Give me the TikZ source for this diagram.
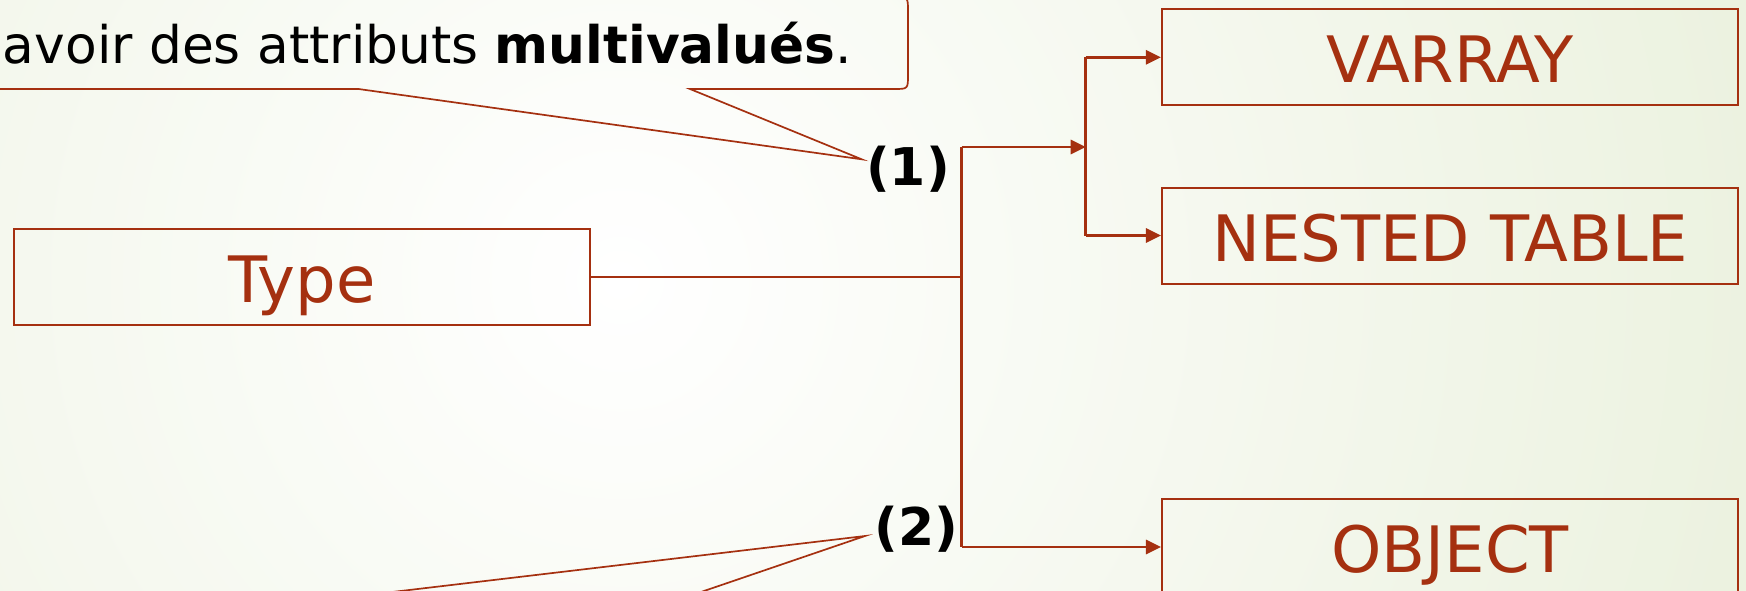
\documentclass[tikz,border=0pt]{standalone}
\usepackage{fontspec}
\setmainfont{DejaVu Sans}
\usetikzlibrary{arrows.meta}
\definecolor{rust}{HTML}{A53010}
\definecolor{bgg}{HTML}{DCE7C6}
\tikzset{
  box/.style={draw=rust, line width=2pt, minimum width=576.5pt, minimum height=96pt,
    inner sep=0pt, text=rust, font=\fontsize{64}{70}\selectfont,
    text height=51.4pt, text depth=0pt},
  conn/.style={draw=rust, line width=2.8pt},
  arr/.style={conn, -{Triangle[length=15pt,width=14pt]}},
  callout/.style={draw=rust, line width=1.7pt, line join=miter},
  num/.style={font=\fontsize{52}{56}\selectfont\bfseries, inner sep=0pt},
}
\begin{document}
\begin{tikzpicture}[x=1pt,y=-1pt]
\useasboundingbox (0,0) rectangle (1746,591);
\clip (0,0) rectangle (1746,591);
% background
\fill[bgg] (0,0) rectangle (1746,591);
\shade[inner color=white, outer color=bgg] (620,280) circle (2100pt);

% callout (top)
\coordinate (tip1) at (861.7,159.3);
\draw[callout] (-30,-3) -- (894,-3) .. controls (908,-3) .. (908,11) -- (908,75)
  .. controls (908,89) .. (894,89) -- (690,89) -- (tip1) -- (358.5,89) -- (-30,89);
\node[anchor=base east, inner sep=0pt, font=\fontsize{51.8}{60}\selectfont] (ctext)
  at (852,63.3) {avoir des attributs \textbf{multivalués}.};

% callout (bottom)
\coordinate (tip2) at (865,536);
\coordinate (b2l) at (156,620);
\coordinate (b2r) at (619,620);
\draw[callout] (b2l) -- (tip2) -- (b2r);

% boxes
\node[box] (type) at (302,277) {Type};
\node[box] (varray) at (1450.2,57.3) {VARRAY};
\node[box] (nested) at (1450.2,235.5) {NESTED TABLE};
\node[box] (object) at (1450.2,547) {OBJECT};

% labels
\node[num] (n1) at (908,169.5) {(1)};
\node[num] (n2) at (916.7,529) {(2)};

% connectors
\coordinate (j1) at (961.5,147);
\coordinate (split) at (1085.7,147);
\draw[conn] (type.east) -| (j1);
\draw[conn] (j1 |- type.east) -- (j1 |- object.west);
\draw[arr] (j1 |- object.west) -- (object.west);
\draw[arr] (j1) -- (split);
\draw[conn] (split |- varray.west) -- (split |- nested.west);
\draw[arr] (split |- varray.west) -- (varray.west);
\draw[arr] (split |- nested.west) -- (nested.west);
\end{tikzpicture}
\end{document}
